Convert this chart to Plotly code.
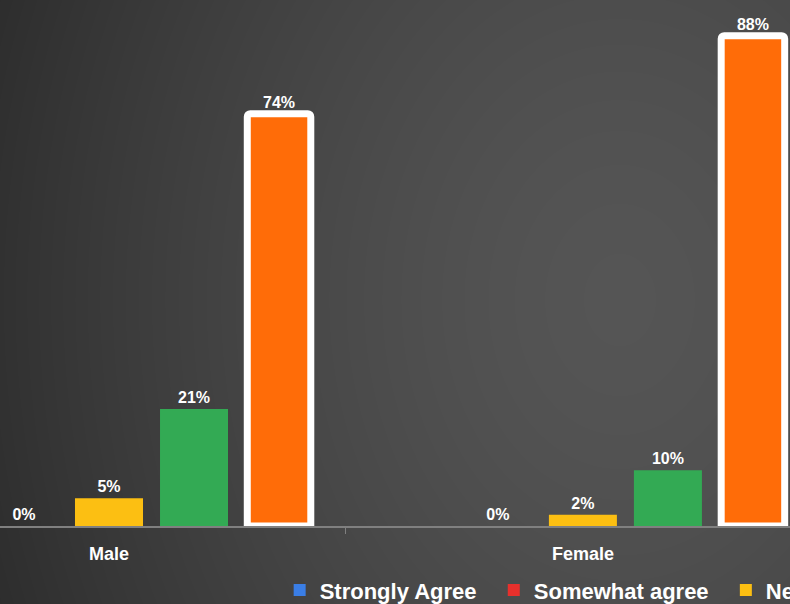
import base64
import struct
import zlib

import numpy as np
import plotly.graph_objects as go

# data
groups = ["Male", "Female"]
series = ["Strongly Agree", "Somewhat agree", "Neutral", "Somewhat disagree", "Strongly disagree"]
strongly_agree = [0, None]
somewhat_agree = [0, 0]
neutral = [5, 2]
somewhat_disagree = [21, 10]
strongly_disagree = [74, 88]

colors = ["#3a7ee6", "#e8302c", "#fcbf12", "#33aa54", "#ff6c08"]
FONT = "Liberation Sans, Arial, sans-serif"
W, H = 790, 604
NBSP = "\u00a0"


def background_png(w, h):
    # soft dark radial backdrop, brighter a bit right of centre
    xs = (np.arange(w) + 0.5) / w * W
    ys = (np.arange(h) + 0.5) / h * H
    gx, gy = np.meshgrid(xs, ys)
    d = np.hypot((gx - 620) / 700, (gy - 300) / 900)
    v = np.clip(85 - 43 * d ** 1.5, 30, 90).round().astype(np.uint8)
    img = np.stack([v, v, v], axis=-1)
    raw = b"".join(b"\x00" + img[j].tobytes() for j in range(h))

    def chunk(tag, data):
        body = tag + data
        return struct.pack(">I", len(data)) + body + struct.pack(">I", zlib.crc32(body) & 0xFFFFFFFF)

    png = (b"\x89PNG\r\n\x1a\n"
           + chunk(b"IHDR", struct.pack(">IIBBBBB", w, h, 8, 2, 0, 0, 0))
           + chunk(b"IDAT", zlib.compress(raw, 9))
           + chunk(b"IEND", b""))
    return "data:image/png;base64," + base64.b64encode(png).decode()


fig = go.Figure()
values = [strongly_agree, somewhat_agree, neutral, somewhat_disagree, strongly_disagree]
for i, (name, vals) in enumerate(zip(series, values)):
    last = i == len(series) - 1
    fig.add_trace(go.Bar(
        x=groups, y=vals,
        name=name + NBSP * 2 if i < 2 else name,  # a little extra room between legend entries
        marker=dict(color=colors[i],
                    line=dict(color="white", width=7) if last else dict(width=0),
                    cornerradius=3 if last else 0),
        width=0.134 if last else None,
        text=["" if v is None else f"{v}%" for v in vals],
        textposition="outside",
        textfont=dict(family=FONT, size=16, color="white", weight="bold"),
        cliponaxis=False,
        showlegend=i < 3,
    ))

fig.update_layout(
    width=W, height=H,
    margin=dict(l=0, r=0, t=0, b=0, autoexpand=False),
    paper_bgcolor="#3c3c3c",
    plot_bgcolor="rgba(0,0,0,0)",
    barmode="group",
    bargap=0.103,
    bargroupgap=0.2,
    font=dict(family=FONT, color="white"),
    images=[dict(source=background_png(W, H), xref="paper", yref="paper",
                 x=0, y=1, sizex=1, sizey=1, sizing="stretch",
                 xanchor="left", yanchor="top", layer="below")],
    legend=dict(orientation="h", x=0.354, xanchor="left", y=0.023, yanchor="middle",
                font=dict(family=FONT, size=22, color="white", weight="bold"),
                bgcolor="rgba(0,0,0,0)", traceorder="normal"),
)
fig.update_xaxes(
    range=[-0.23, 1.437], showgrid=False, zeroline=False,
    showline=True, linecolor="#808080", linewidth=1.5,
    ticks="outside", tickson="boundaries", ticklen=6, tickcolor="#808080",
    tickfont=dict(family=FONT, size=18, color="white", weight="bold"),
    ticklabelstandoff=11, layer="below traces",
)
fig.update_yaxes(range=[0, 94.4], domain=[78 / H, 1], visible=False)

fig.write_html("out.html", config={"displayModeBar": False},
               post_script="document.body.style.margin='0';document.body.style.overflow='hidden';")
